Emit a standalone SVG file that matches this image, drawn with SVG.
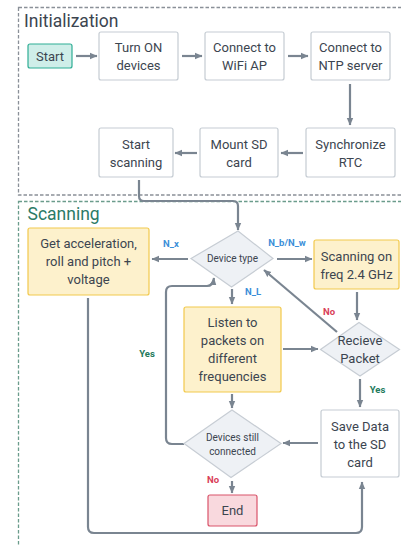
<svg xmlns="http://www.w3.org/2000/svg" width="401" height="546" viewBox="0 0 401 546">
<defs>
<marker id="ah" markerUnits="userSpaceOnUse" markerWidth="8" markerHeight="8" viewBox="0 0 8 8" refX="7" refY="4" orient="auto">
<path d="M0,0.8 L7.5,4 L0,7.2 Z" fill="#7a8591"/>
</marker>
<style>
.frame-i{fill:none;stroke:#8a9098;stroke-width:1.3;stroke-dasharray:3.5,2}
.frame-s{fill:none;stroke:#6b9c8c;stroke-width:1.3;stroke-dasharray:3.5,2}
.title{font-family:Roboto,"Noto Sans",sans-serif;font-size:17.5px;fill:#3c4550}
.title-s{font-family:Roboto,"Noto Sans",sans-serif;font-size:17.5px;fill:#2b7a66}
.box{fill:#ffffff;stroke:#c5ccd3;stroke-width:1.2}
.start{fill:#cfeee9;stroke:#2fae95;stroke-width:1.2}
.yel{fill:#fdf1cc;stroke:#f2c94c;stroke-width:1.2}
.dia{fill:#eef1f5;stroke:#c7cdd4;stroke-width:1.2}
.end{fill:#f9d9de;stroke:#d9546a;stroke-width:1.2}
.t{font-family:Roboto,"Noto Sans",sans-serif;font-size:13px;fill:#3c4550;text-anchor:middle}
.ts{font-family:Roboto,"Noto Sans",sans-serif;font-size:10px;fill:#3c4550;text-anchor:middle}
.lb{font-family:Roboto,"Noto Sans",sans-serif;font-size:9.5px;font-weight:bold;fill:#3b8fd9;text-anchor:middle}
.yes{font-family:Roboto,"Noto Sans",sans-serif;font-size:9.5px;font-weight:bold;fill:#237a5c;text-anchor:middle}
.no{font-family:Roboto,"Noto Sans",sans-serif;font-size:9.5px;font-weight:bold;fill:#d94058;text-anchor:middle}
.c{fill:none;stroke:#7a8591;stroke-width:2.2;marker-end:url(#ah)}
.cn{fill:none;stroke:#7a8591;stroke-width:2.2}
</style>
</defs>
<rect width="401" height="546" fill="#ffffff"/>
<g id="frame-initialization">
<rect class="frame-i" x="18.5" y="7.5" width="400" height="187.5"/>
<text class="title" x="24" y="27">Initialization</text>
</g>
<g id="frame-scanning">
<rect class="frame-s" x="18.5" y="201.5" width="400" height="360"/>
<text class="title-s" x="27.5" y="219.5">Scanning</text>
</g>
<g id="connectors">
<path class="c" d="M76,56 H97"/>
<path class="c" d="M182,56 H202"/>
<path class="c" d="M288,56 H308"/>
<path class="c" d="M350,84 V125"/>
<path class="c" d="M303,153 H281"/>
<path class="c" d="M197,153 H175"/>
<path class="c" d="M139,180 V196 Q139,201 144,201 H233 Q238,201 238,206 V230"/>
<path class="c" d="M188,259 H152"/>
<path class="c" d="M277,259 H312"/>
<path class="c" d="M232,289 V304"/>
<path class="c" d="M357,292 V320"/>
<path class="c" d="M283,349 H318"/>
<path class="c" d="M337,332 L264,270"/>
<path class="c" d="M360,379 V407"/>
<path class="c" d="M318,443 H283"/>
<path class="c" d="M232,394 V408"/>
<path class="c" d="M232,481 V493"/>
<path class="c" d="M184,444 H172 Q166,444 166,438 V292 Q166,286 172,286 H207 Q213,286 214,278"/>
<path class="c" d="M88,298 V527 Q88,533 94,533 H356 Q362,533 362,527 V482"/>
<text class="lb" x="171" y="247">N_x</text>
<text class="lb" x="287" y="246">N_b/N_w</text>
<text class="lb" x="253" y="295">N_L</text>
<text class="no" x="329" y="315">No</text>
<text class="yes" x="147" y="357">Yes</text>
<text class="yes" x="377.5" y="393">Yes</text>
<text class="no" x="213" y="483">No</text>
</g>
<g id="start">
<rect class="start" x="28" y="44" width="44" height="24" rx="2"/>
<text class="t" x="50" y="60.5">Start</text>
</g>
<g id="turn-on">
<rect class="box" x="99" y="32" width="79" height="48" rx="2"/>
<text class="t" x="138.5" y="52.3">Turn ON</text>
<text class="t" x="138.5" y="70.3">devices</text>
</g>
<g id="wifi">
<rect class="box" x="205" y="32" width="79" height="48" rx="2"/>
<text class="t" x="244.5" y="52.3">Connect to</text>
<text class="t" x="244.5" y="70.3">WiFi AP</text>
</g>
<g id="ntp">
<rect class="box" x="311" y="32" width="79" height="48" rx="2"/>
<text class="t" x="350.5" y="52.3">Connect to</text>
<text class="t" x="350.5" y="70.3">NTP server</text>
</g>
<g id="sync">
<rect class="box" x="306" y="128" width="89" height="49" rx="2"/>
<text class="t" x="350.5" y="149">Synchronize</text>
<text class="t" x="350.5" y="167">RTC</text>
</g>
<g id="mount">
<rect class="box" x="200" y="128" width="78" height="49" rx="2"/>
<text class="t" x="239" y="149">Mount SD</text>
<text class="t" x="239" y="167">card</text>
</g>
<g id="start-scanning">
<rect class="box" x="99" y="128" width="74" height="49" rx="2"/>
<text class="t" x="136" y="149">Start</text>
<text class="t" x="136" y="167">scanning</text>
</g>
<g id="device-type">
<polygon class="dia" points="238,231 273,258.5 231.5,287 191,258.5"/>
<text class="ts" x="232.5" y="262">Device type</text>
</g>
<g id="get-accel">
<rect class="yel" x="28" y="228" width="121" height="67" rx="2"/>
<text class="t" x="88.5" y="248">Get acceleration,</text>
<text class="t" x="88.5" y="266">roll and pitch +</text>
<text class="t" x="88.5" y="284">voltage</text>
</g>
<g id="scan-freq">
<rect class="yel" x="314" y="240" width="85" height="49" rx="2"/>
<text class="t" x="356.5" y="261">Scanning on</text>
<text class="t" x="356.5" y="279">freq 2.4 GHz</text>
</g>
<g id="listen">
<rect class="yel" x="184" y="307" width="97" height="85" rx="2"/>
<text class="t" x="232.5" y="327">Listen to</text>
<text class="t" x="232.5" y="345">packets on</text>
<text class="t" x="232.5" y="363">different</text>
<text class="t" x="232.5" y="381">frequencies</text>
</g>
<g id="recieve">
<polygon class="dia" points="359,322.5 399.5,349.5 360,376 320.5,349.5"/>
<text class="t" x="360" y="345">Recieve</text>
<text class="t" x="360" y="363">Packet</text>
</g>
<g id="save">
<rect class="box" x="321" y="410" width="78" height="67" rx="2"/>
<text class="t" x="360" y="430.5">Save Data</text>
<text class="t" x="360" y="448.5">to the SD</text>
<text class="t" x="360" y="466.5">card</text>
</g>
<g id="devices-connected">
<polygon class="dia" points="232,410 281,443.5 231,477.5 184,443.5"/>
<text class="ts" x="232.5" y="441">Devices still</text>
<text class="ts" x="232.5" y="455">connected</text>
</g>
<g id="end">
<rect class="end" x="208" y="495" width="49" height="31" rx="2"/>
<text class="t" x="232.5" y="515">End</text>
</g>
</svg>
